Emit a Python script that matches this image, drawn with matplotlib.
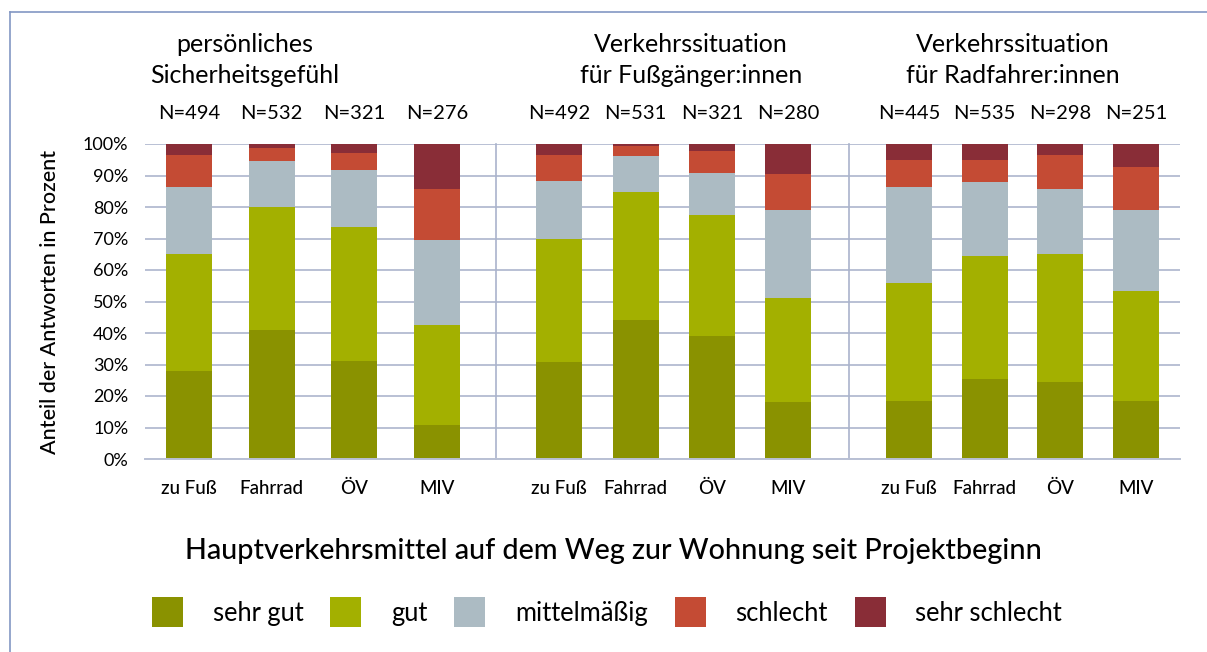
import matplotlib.pyplot as plt
from matplotlib.patches import Patch
from matplotlib.lines import Line2D
from matplotlib.ticker import FuncFormatter

plt.rcParams['font.family'] = ['Lato', 'DejaVu Sans']

categories = ['zu Fuß', 'Fahrrad', 'ÖV', 'MIV']
group_titles = ['persönliches\nSicherheitsgefühl',
                'Verkehrssituation\nfür Fußgänger:innen',
                'Verkehrssituation\nfür Radfahrer:innen']
n_values = [[494, 532, 321, 276],
            [492, 531, 321, 280],
            [445, 535, 298, 251]]

levels = ['sehr gut', 'gut', 'mittelmäßig', 'schlecht', 'sehr schlecht']
colors = ['#8a9200', '#a3b000', '#acbbc3', '#c44b34', '#892d37']

# percent per bar, 3 groups x 4 modes
sehr_gut = [27.8, 41.0, 31.2, 10.8, 30.9, 44.2, 39.1, 18.1, 18.5, 25.5, 24.5, 18.5]
gut = [37.4, 38.9, 42.3, 31.8, 39.1, 40.7, 38.5, 33.1, 37.5, 39.1, 40.7, 34.9]
mittelmaessig = [21.3, 14.6, 18.1, 26.8, 18.4, 11.2, 13.1, 27.7, 30.2, 23.2, 20.4, 25.8]
schlecht = [9.9, 4.1, 5.4, 16.2, 8.0, 3.2, 7.0, 11.5, 8.6, 7.0, 10.8, 13.4]
sehr_schlecht = [3.6, 1.4, 3.0, 14.4, 3.6, 0.7, 2.3, 9.6, 5.2, 5.2, 3.6, 7.4]
series = [sehr_gut, gut, mittelmaessig, schlecht, sehr_schlecht]

W, H = 1207, 652
fig = plt.figure(figsize=(W / 100, H / 100), dpi=100)

grid_col = '#b9c0d4'
panels = [(145, 496), (496, 849), (849, 1180)]
xlims = [(-0.53, 3.71), (-0.83, 3.80), (-0.79, 3.58)]
title_x = [245, 691, 1013]
top, bottom = 144, 459

for g, ((x0, x1), lim) in enumerate(zip(panels, xlims)):
    ax = fig.add_axes([x0 / W, 1 - bottom / H, (x1 - x0) / W, (bottom - top) / H])
    ppu = (x1 - x0) / (lim[1] - lim[0])
    xs = range(len(categories))
    base = [0] * 4
    for vals, col, lab in zip(series, colors, levels):
        v = vals[g * 4:(g + 1) * 4]
        ax.bar(xs, v, width=46 / ppu, bottom=base, color=col, label=lab, zorder=2)
        base = [b + a for b, a in zip(base, v)]
    ax.set_xlim(*lim)
    ax.set_ylim(0, 100)
    ax.set_yticks(range(0, 101, 10))
    ax.yaxis.grid(True, color=grid_col, linewidth=1.4)
    ax.set_axisbelow(True)
    ax.set_xticks(list(xs), categories, fontsize=13.5, fontweight='medium')
    ax.tick_params(axis='x', length=0, pad=15)
    ax.tick_params(axis='y', length=0, pad=12, labelsize=13)
    for s in ['top', 'right']:
        ax.spines[s].set_visible(False)
    ax.spines['bottom'].set_color(grid_col)
    ax.spines['bottom'].set_linewidth(1.4)
    if g == 0:
        ax.spines['left'].set_visible(False)
        ax.yaxis.set_major_formatter(FuncFormatter(lambda v, p: f'{v:.0f}%'))
    else:
        ax.spines['left'].set_color('#aab3cc')
        ax.spines['left'].set_linewidth(1.2)
        ax.set_yticklabels([])
    for i, n in enumerate(n_values[g]):
        ax.annotate(f'N={n}', (i, 1), xycoords=('data', 'axes fraction'),
                    xytext=(0, 22), textcoords='offset points',
                    ha='center', va='center', fontsize=14.5)
    fig.text(title_x[g] / W, 1 - 60 / H, group_titles[g], ha='center', va='center',
             fontsize=18, linespacing=1.38)

fig.text(50 / W, 1 - 302 / H, 'Anteil der Antworten in Prozent', rotation=90,
         ha='center', va='center', fontsize=15.5, fontweight='medium')
fig.text(613 / W, 1 - 551 / H, 'Hauptverkehrsmittel auf dem Weg zur Wohnung seit Projektbeginn',
         ha='center', va='center', fontsize=20.7, fontweight='medium')

handles = [Patch(facecolor=c, label=l) for c, l in zip(colors, levels)]
fig.legend(handles=handles, loc='center', bbox_to_anchor=(607 / W, 1 - 612 / H),
           ncol=5, frameon=False, handlelength=1.21, handleheight=1.37,
           handletextpad=1.17, columnspacing=1.05, prop={'size': 18.4})

# frame lines around the chart area
border = '#8397c3'
fig.add_artist(Line2D([10 / W, 1], [1 - 12 / H, 1 - 12 / H], color=border, linewidth=1.2))
fig.add_artist(Line2D([10 / W, 10 / W], [0, 1 - 12 / H], color=border, linewidth=1.2))

fig.savefig('out.png', dpi=100)
